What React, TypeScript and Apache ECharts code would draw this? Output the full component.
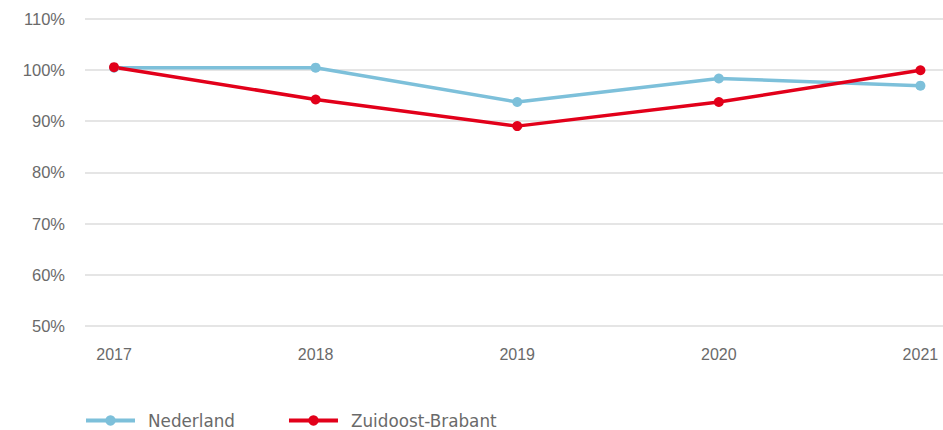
import React, { useEffect, useRef } from "react";
import * as echarts from "echarts";

const years = [2017, 2018, 2019, 2020, 2021];
const nederland = [100.4, 100.4, 93.7, 98.3, 96.9];
const zuidoostBrabant = [100.5, 94.2, 89.0, 93.7, 99.9];
const yTicks = [50, 60, 70, 80, 90, 100, 110];

export default function App() {
  const ref = useRef<HTMLDivElement>(null);
  useEffect(() => {
    if (!ref.current) return;
    const chart = echarts.init(ref.current, null, { renderer: "svg" });
    const axisFont = "Liberation Sans, Arial, sans-serif";
    const legendFont = "DejaVu Sans, sans-serif";
    chart.setOption({
      animation: false,
      textStyle: { fontFamily: axisFont },
      grid: { left: 85, right: 0, top: 18.5, bottom: 104 },
      xAxis: {
        type: "value",
        min: 2016.856,
        max: 2021.112,
        axisLine: { show: false },
        axisTick: { show: false },
        splitLine: { show: false },
        axisLabel: {
          customValues: years,
          formatter: (v: number) => String(v),
          color: "#6a6a6a",
          fontSize: 16,
          margin: 20,
          fontFamily: axisFont,
        },
      },
      yAxis: {
        type: "value",
        min: yTicks[0],
        max: yTicks[yTicks.length - 1],
        interval: 10,
        axisLine: { show: false },
        axisTick: { show: false },
        splitLine: { lineStyle: { color: "#dcdcdc", width: 1.5 } },
        axisLabel: {
          formatter: "{value}%",
          color: "#6a6a6a",
          fontSize: 16.5,
          margin: 20,
          fontFamily: axisFont,
        },
      },
      legend: {
        top: 407,
        left: 79,
        itemWidth: 49,
        itemHeight: 13,
        itemGap: 52,
        textStyle: { color: "#6a6a6a", fontSize: 16.8, fontFamily: legendFont, padding: [0, 0, 0, 8] },
        lineStyle: { width: 4 },
        data: ["Nederland", "Zuidoost-Brabant"],
      },
      series: [
        {
          name: "Nederland",
          type: "line",
          data: years.map((y, i) => [y, nederland[i]]),
          symbol: "circle",
          symbolSize: 10,
          lineStyle: { color: "#7dc0da", width: 3.5 },
          itemStyle: { color: "#7dc0da" },
        },
        {
          name: "Zuidoost-Brabant",
          type: "line",
          data: years.map((y, i) => [y, zuidoostBrabant[i]]),
          symbol: "circle",
          symbolSize: 10,
          lineStyle: { color: "#e2001a", width: 3.5 },
          itemStyle: { color: "#e2001a" },
        },
      ],
    });
    return () => chart.dispose();
  }, []);
  return <div ref={ref} style={{ width: 943, height: 430, position: "absolute", left: 0, top: 0 }} />;
}
